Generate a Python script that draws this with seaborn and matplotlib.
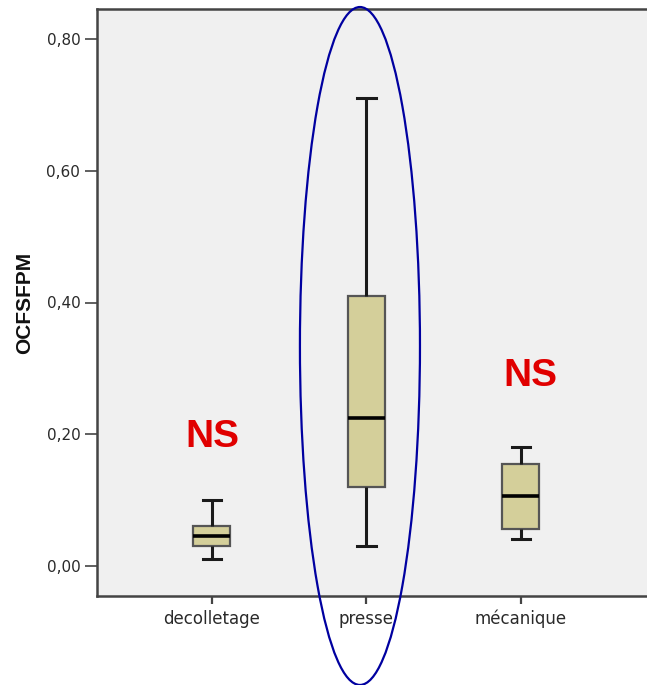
import matplotlib
matplotlib.use("Agg")
import matplotlib.pyplot as plt
from matplotlib.patches import Ellipse
import seaborn as sns
import pandas as pd

# ---- data ----
categories = ["decolletage", "presse", "mécanique"]
# five-number summaries: min, Q1, median, Q3, max
decolletage_vals = [0.011, 0.030, 0.046, 0.061, 0.100]
presse_vals = [0.030, 0.120, 0.225, 0.410, 0.710]
mecanique_vals = [0.041, 0.056, 0.106, 0.155, 0.181]
y_ticks = [0.0, 0.2, 0.4, 0.6, 0.8]
y_tick_labels = ["0,00", "0,20", "0,40", "0,60", "0,80"]
ylabel = "OCFSFPM"
annotations = [("NS", 0.0, 0.196), ("NS", 2.06, 0.288)]

rows = []
for cat, vals in zip(categories, [decolletage_vals, presse_vals, mecanique_vals]):
    for v in vals:
        rows.append({"group": cat, "value": v})
df = pd.DataFrame(rows)

fig = plt.figure(figsize=(6.47, 6.85), dpi=100)
fig.patch.set_facecolor("white")
ax = fig.add_axes([97 / 647, 89 / 685, (647 - 97) / 647, (596 - 9) / 685])
ax.set_facecolor("#f0f0f0")

sns.boxplot(
    data=df, x="group", y="value", order=categories, ax=ax,
    color="#d4cf9a", saturation=1, width=0.24, whis=(0, 100),
    linecolor="#1a1a1a", linewidth=2,
    boxprops=dict(edgecolor="#555555", linewidth=1.6),
    medianprops=dict(color="black", linewidth=2.6),
    whiskerprops=dict(color="#1a1a1a", linewidth=2.2),
    capprops=dict(color="#1a1a1a", linewidth=2.2),
)

ax.set_xlim(-0.744, 2.816)
ax.set_ylim(-0.0455, 0.8455)
ax.set_yticks(y_ticks)
ax.set_yticklabels(y_tick_labels, fontsize=11, family="DejaVu Sans", color="#2a2a2a")
ax.set_xticks(range(len(categories)))
ax.set_xticklabels(categories, fontsize=12, family="DejaVu Sans", color="#2a2a2a")
ax.tick_params(axis="y", length=9, width=1.2, color="#444444", pad=3)
ax.tick_params(axis="x", length=6, width=1.6, color="#444444", pad=4)
ax.set_xlabel("")
ax.set_ylabel(ylabel, fontsize=15, fontweight="bold", family="Liberation Sans",
              labelpad=9, color="#111111")

for side in ["left", "bottom", "top"]:
    ax.spines[side].set_color("#444444")
    ax.spines[side].set_linewidth(1.8)
ax.spines["right"].set_visible(False)

for txt, x, y in annotations:
    ax.text(x, y, txt, color="#e00000", fontsize=28, fontweight="bold",
            family="Liberation Sans", ha="center", va="center")

ell = Ellipse((0.958, 0.334), width=0.777, height=1.029, fill=False,
              edgecolor="#0000a0", linewidth=1.6, clip_on=False, zorder=5)
ax.add_patch(ell)

fig.savefig("out.png", dpi=100)
